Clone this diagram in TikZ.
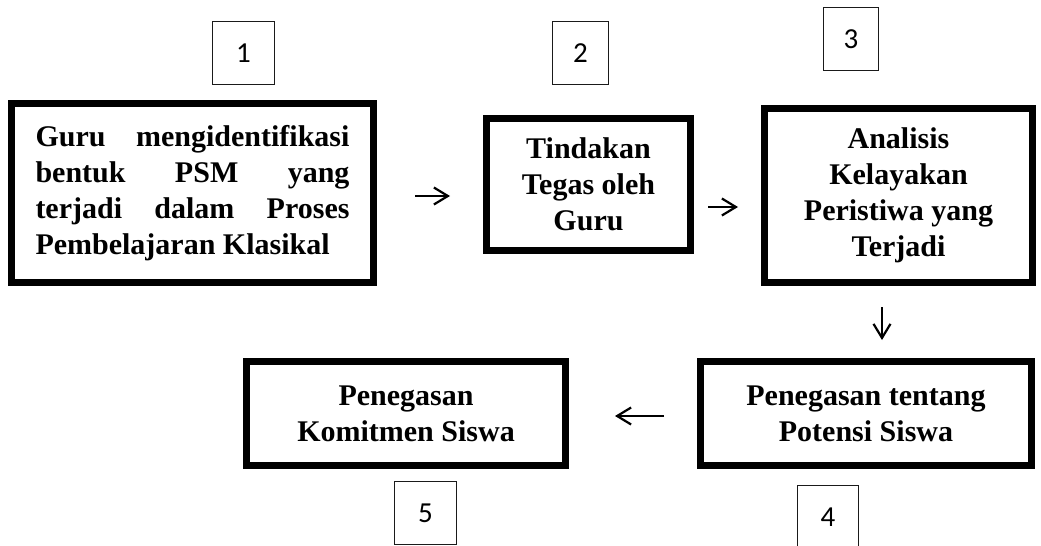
\documentclass[tikz,border=0pt]{standalone}
\usepackage{fontspec}
\setmainfont{Liberation Serif}
\newfontfamily\numfont{Carlito}
\usetikzlibrary{arrows.meta, positioning, calc}
\definecolor{boxline}{HTML}{000000}
\definecolor{numline}{HTML}{1A1A1A}

\tikzset{
  thickbox/.style={draw=boxline, line width=3.5pt, inner sep=0pt, align=center,
    font=\bfseries\fontsize{15}{18}\selectfont},
  numbox/.style={draw=numline, line width=0.9pt, inner sep=0pt,
    font=\numfont\fontsize{14.5}{17}\selectfont},
  arr/.style={-{Straight Barb[length=7pt, width=8.5pt]}, line width=1.1pt}
}

\begin{document}
\begin{tikzpicture}[x=0.5pt, y=-0.5pt]
  \useasboundingbox (0,0) rectangle (1041,546);

  % Step numbers
  \node[numbox, minimum width=31pt, minimum height=31.5pt] (n1) at (243.5,53) {1};
  \node[numbox, minimum width=28pt, minimum height=31.5pt] (n2) at (580.5,53) {2};
  \node[numbox, minimum width=27.5pt, minimum height=31.5pt] (n3) at (851,39) {3};
  \node[numbox, minimum width=30.5pt, minimum height=31.5pt] (n4) at (828,517) {4};
  \node[numbox, minimum width=31pt, minimum height=31.5pt] (n5) at (425.5,513) {5};

  % Top row
  \node[thickbox, minimum width=181pt, minimum height=89.5pt, text width=157pt, align=justify]
    (guru) at (192.5,193)
    {Guru mengidentifikasi\linebreak bentuk PSM yang\linebreak terjadi dalam Proses\linebreak Pembelajaran Klasikal};
  \node[thickbox, minimum width=102pt, minimum height=66pt] (tindakan) at (588.5,184.5)
    {Tindakan\\Tegas oleh\\Guru};
  \node[thickbox, minimum width=134pt, minimum height=87pt] (analisis) at (898.5,195.5)
    {Analisis\\Kelayakan\\Peristiwa yang\\Terjadi};

  % Bottom row
  \node[thickbox, minimum width=165.5pt, minimum height=52pt] (potensi) at (866,413.5)
    {Penegasan tentang\\Potensi Siswa};
  \node[thickbox, minimum width=159.5pt, minimum height=52pt] (komitmen) at (406,413.5)
    {Penegasan\\Komitmen Siswa};

  % Arrows
  \coordinate (row1) at (0,196);
  \coordinate (row2) at (0,207);
  \coordinate (col3) at (882,0);
  \coordinate (row4) at (0,416);
  \draw[arr, shorten <=19pt, shorten >=16.5pt] (guru.east |- row1) -- (tindakan.west |- row1);
  \draw[arr, shorten <=7pt, shorten >=11.5pt] (tindakan.east |- row2) -- (analisis.west |- row2);
  \draw[arr, shorten <=10.5pt, shorten >=9pt] (analisis.south -| col3) -- (potensi.north -| col3);
  \draw[arr, shorten <=16.5pt, shorten >=23pt] (potensi.west |- row4) -- (komitmen.east |- row4);
\end{tikzpicture}
\end{document}
